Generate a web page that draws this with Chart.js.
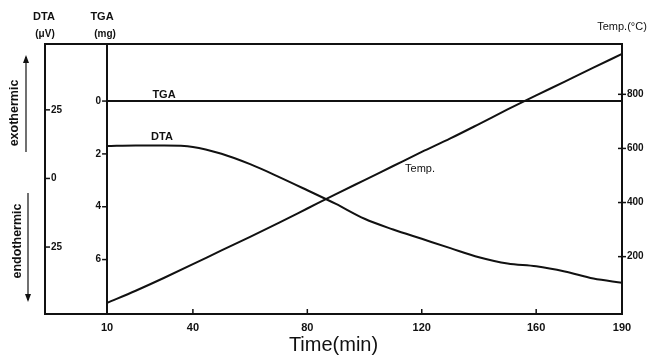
<!DOCTYPE html>
<html lang="en">
<head>
  <meta charset="UTF-8">
  <title>DTA / TGA / Temp. vs Time</title>
  <script src="https://cdnjs.cloudflare.com/ajax/libs/Chart.js/4.4.0/chart.umd.min.js"></script>
  <style>
    body {
      margin: 0;
      background-color: #fff;
    }
    #chart-container {
      width: 657px;
      height: 355px;
    }
  </style>
</head>

<body>
  <div id="chart-container">
    <canvas id="myChart" width="657" height="355"></canvas>
  </div>

  <script>
    // Sampled every 10 min
    const timePoints = [10, 20, 30, 40, 50, 60, 70, 80, 90, 100, 110, 120, 130, 140, 150, 160, 170, 180, 190];
    const dtaValues = [11.8, 12.0, 12.0, 11.5, 9.0, 5.2, 0.6, -4.3, -9.3, -14.7, -18.6, -22.0, -25.4, -28.7, -31.0, -32.0, -33.9, -36.5, -38.0];
    const tgaValues = [0, 0, 0, 0, 0, 0, 0, 0, 0, 0, 0, 0, 0, 0, 0, 0, 0, 0, 0];
    const tempValues = [29, 74, 122, 172, 223, 273, 325, 378, 431, 483, 535, 587, 637, 690, 744, 796, 847, 899, 949];

    // Axis ticks
    const timeTicks = [10, 40, 80, 120, 160, 190];
    const dtaTicks = [25, 0, -25];
    const tgaTicks = [0, 2, 4, 6];
    const tempTicks = [200, 400, 600, 800];

    const INK = '#111';
    const FONT = 'Liberation Sans, Arial, sans-serif';

    function pairs(values) {
      return timePoints.map((t, i) => ({ x: t, y: values[i] }));
    }

    function fixedTicks(list) {
      return function(scale) {
        scale.ticks = list.map(v => ({ value: v }));
      };
    }

    function line(ctx, x1, y1, x2, y2) {
      ctx.beginPath();
      ctx.moveTo(x1, y1);
      ctx.lineTo(x2, y2);
      ctx.stroke();
    }

    function arrow(ctx, x, y1, y2) {
      // shaft from y1 to y2, head at y2
      const dir = y2 > y1 ? 1 : -1;
      line(ctx, x, y1, x, y2);
      ctx.beginPath();
      ctx.moveTo(x, y2 + dir * 2);
      ctx.lineTo(x - 3, y2 - dir * 6);
      ctx.lineTo(x + 3, y2 - dir * 6);
      ctx.closePath();
      ctx.fill();
    }

    // Frame, inward tick marks, TGA tick labels and the text around the plot
    const decorations = {
      id: 'decorations',
      afterDraw(chart) {
        const ctx = chart.ctx;
        const area = chart.chartArea;
        const xs = chart.scales.x;
        const yDta = chart.scales.y;
        const yTga = chart.scales.yTGA;
        const yTemp = chart.scales.yTemp;
        const tgaX = xs.getPixelForValue(10);

        ctx.save();
        ctx.strokeStyle = INK;
        ctx.fillStyle = INK;
        ctx.lineWidth = 2;
        ctx.strokeRect(area.left, area.top, area.right - area.left, area.bottom - area.top);

        ctx.lineWidth = 1.5;
        xs.ticks.forEach(t => {
          if (t.value === 10 || t.value === 190) return;
          const px = xs.getPixelForValue(t.value);
          line(ctx, px, area.bottom, px, area.bottom - 5);
        });
        yDta.ticks.forEach(t => {
          const py = yDta.getPixelForValue(t.value);
          line(ctx, area.left, py, area.left + 5, py);
        });
        yTemp.ticks.forEach(t => {
          const py = yTemp.getPixelForValue(t.value);
          line(ctx, area.right - 4, py, area.right + 4, py);
        });

        // TGA axis sits inside the plot at t = 10
        ctx.font = 'bold 10px ' + FONT;
        ctx.textAlign = 'right';
        ctx.textBaseline = 'middle';
        yTga.ticks.forEach(t => {
          const py = yTga.getPixelForValue(t.value);
          line(ctx, tgaX - 5, py, tgaX, py);
          ctx.fillText(String(t.value), tgaX - 6, py);
        });

        // axis headings
        ctx.textAlign = 'center';
        ctx.font = 'bold 11px ' + FONT;
        ctx.fillText('DTA', 44, 17);
        ctx.fillText('TGA', 102, 17);
        ctx.font = 'bold 10px ' + FONT;
        ctx.fillText('(μV)', 45, 34);
        ctx.fillText('(mg)', 105, 34);
        ctx.font = '11px ' + FONT;
        ctx.fillText('Temp.(°C)', 622, 27);

        // curve labels
        ctx.font = 'bold 11px ' + FONT;
        ctx.fillText('TGA', 164, 95);
        ctx.fillText('DTA', 162, 137);
        ctx.font = '11px ' + FONT;
        ctx.fillText('Temp.', 420, 169);

        // exothermic / endothermic
        ctx.font = 'bold 12.5px ' + FONT;
        ctx.save();
        ctx.translate(15, 113);
        ctx.rotate(-Math.PI / 2);
        ctx.fillText('exothermic', 0, 0);
        ctx.restore();
        ctx.save();
        ctx.translate(18, 241);
        ctx.rotate(-Math.PI / 2);
        ctx.fillText('endothermic', 0, 0);
        ctx.restore();
        ctx.lineWidth = 1.2;
        arrow(ctx, 26, 152, 57);
        arrow(ctx, 28, 193, 300);
        ctx.restore();
      }
    };

    const lineStyle = {
      borderColor: INK,
      borderWidth: 2,
      pointRadius: 0,
      fill: false,
      cubicInterpolationMode: 'monotone'
    };

    const ctx = document.getElementById('myChart').getContext('2d');
    const myChart = new Chart(ctx, {
      type: 'line',
      data: {
        datasets: [
          Object.assign({ label: 'DTA', data: pairs(dtaValues), yAxisID: 'y' }, lineStyle),
          Object.assign({ label: 'TGA', data: pairs(tgaValues), yAxisID: 'yTGA' }, lineStyle),
          Object.assign({ label: 'Temp.', data: pairs(tempValues), yAxisID: 'yTemp' }, lineStyle)
        ]
      },
      options: {
        responsive: false,
        animation: false,
        layout: { padding: { top: 44, left: 0, right: 0, bottom: 0 } },
        plugins: {
          legend: { display: false },
          tooltip: { enabled: false }
        },
        scales: {
          x: {
            type: 'linear',
            position: 'bottom',
            min: -11.7,
            max: 190,
            afterBuildTicks: fixedTicks(timeTicks),
            afterFit(scale) { scale.height = 41; },
            grid: { display: false, drawTicks: false },
            border: { display: false },
            ticks: {
              color: INK,
              padding: 7,
              maxRotation: 0,
              autoSkip: false,
              font: { family: FONT, size: 11, weight: 'bold' }
            },
            title: {
              display: true,
              text: 'Time(min)',
              color: INK,
              padding: { top: 0, bottom: 0 },
              font: { family: FONT, size: 20, lineHeight: 1 }
            }
          },
          y: {
            position: 'left',
            min: -49.4,
            max: 49,
            afterBuildTicks: fixedTicks(dtaTicks),
            afterFit(scale) { scale.width = 45; },
            grid: { display: false, drawTicks: false },
            border: { display: false },
            ticks: {
              mirror: true,
              padding: 6,
              color: INK,
              callback: v => String(Math.abs(v)),
              font: { family: FONT, size: 10, weight: 'bold' }
            }
          },
          yTGA: {
            axis: 'y',
            position: { x: 10 },
            reverse: true,
            min: -2.16,
            max: 8.06,
            afterBuildTicks: fixedTicks(tgaTicks),
            grid: { display: false, drawTicks: false },
            border: { display: true, color: INK, width: 2 },
            ticks: { display: false }
          },
          yTemp: {
            position: 'right',
            min: -12,
            max: 986,
            afterBuildTicks: fixedTicks(tempTicks),
            afterFit(scale) { scale.width = 35; },
            grid: { display: false, drawTicks: false },
            border: { display: false },
            ticks: {
              padding: 5,
              color: INK,
              font: { family: FONT, size: 10, weight: 'bold' }
            }
          }
        }
      },
      plugins: [decorations]
    });
  </script>
</body>
</html>
